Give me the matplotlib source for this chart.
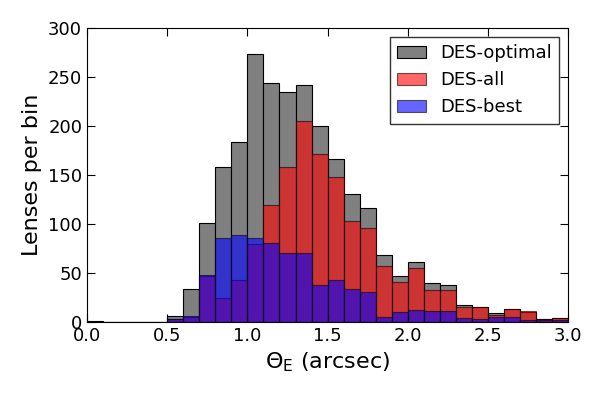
import numpy as np
import matplotlib
matplotlib.use("Agg")
import matplotlib.pyplot as plt

# bin left edges (width 0.1 arcsec)
edges = np.round(np.arange(0, 3.0, 0.1), 1)
optimal = [1, 0, 0, 0, 0, 6, 34, 101, 158, 184, 273, 244, 235, 242, 200, 166, 131, 116, 68, 47, 61, 40, 38, 17, 15, 9, 13, 10, 3, 4]
allDES = [0, 0, 0, 0, 0, 3, 5, 47, 25, 43, 80, 119, 158, 205, 171, 148, 103, 96, 57, 41, 55, 33, 33, 15, 15, 7, 13, 11, 3, 4]
best = [0, 0, 0, 0, 0, 3, 6, 48, 86, 89, 86, 81, 70, 70, 38, 43, 34, 31, 5, 10, 12, 11, 11, 4, 3, 5, 5, 2, 2, 2]

fig, ax = plt.subplots(figsize=(6, 4), dpi=100)
ax.bar(edges, optimal, width=0.1, align="edge", color="grey", edgecolor="black", lw=0.8, label="DES-optimal")
ax.bar(edges, allDES, width=0.1, align="edge", color="red", alpha=0.6, edgecolor="black", lw=0.8, label="DES-all")
ax.bar(edges, best, width=0.1, align="edge", color="blue", alpha=0.6, edgecolor="black", lw=0.8, label="DES-best")
ax.set_xlim(0, 3)
ax.set_ylim(0, 300)
ax.set_xlabel(r"$\Theta_{\rm E}$ (arcsec)", fontsize=16)
ax.set_ylabel("Lenses per bin", fontsize=16)
ax.tick_params(direction="in", top=True, right=True, labelsize=13, length=6)
ax.legend(loc="upper right", fontsize=13, fancybox=False, edgecolor="black", handlelength=1.6)
plt.subplots_adjust(left=0.145, right=0.947, top=0.93, bottom=0.195)
plt.savefig("out.png")
